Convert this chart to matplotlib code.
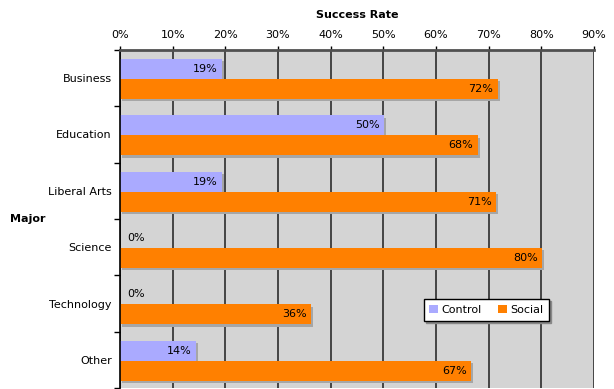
import matplotlib.pyplot as plt
import matplotlib.patheffects as pe
from matplotlib.ticker import FixedLocator, PercentFormatter
import numpy as np

plt.rcParams['font.family'] = ['DejaVu Sans']
plt.rcParams['font.size'] = 8

majors = ['Business', 'Education', 'Liberal Arts', 'Science', 'Technology', 'Other']
control = [19.4, 50.1, 19.4, 0.0, 0.0, 14.4]
social = [71.7, 67.9, 71.3, 80.1, 36.2, 66.7]

fig = plt.figure(figsize=(6.14, 3.89), dpi=100)
ax = fig.add_axes([120 / 614, 1 / 389, 474 / 614, 338 / 389])
ax.set_facecolor('#d4d4d4')

y = np.arange(len(majors))
h = 0.355
shadow = [pe.SimplePatchShadow(offset=(1.5, -1.5), shadow_rgbFace='#a6a6a6', alpha=1.0), pe.Normal()]

b1 = ax.barh(y - 0.16, control, height=h, color='#aaaaff', label='Control', zorder=3)
b2 = ax.barh(y + 0.195, social, height=h, color='#ff8000', label='Social', zorder=3)
for bars in (b1, b2):
    for p in bars:
        p.set_path_effects(shadow)

# value labels inside the bar ends
for bars, vals in ((b1, control), (b2, social)):
    for p, v in zip(bars, vals):
        yc = p.get_y() + p.get_height() / 2
        if v > 0:
            ax.annotate(f'{v:.0f}%', (v, yc), xytext=(-3, 0), textcoords='offset points',
                        ha='right', va='center', zorder=5)
        else:
            ax.annotate(f'{v:.0f}%', (v, yc), xytext=(5, 0), textcoords='offset points',
                        ha='left', va='center', zorder=5)

ax.set_xlim(0, 90)
ax.set_ylim(len(majors) - 0.5, -0.5)
ax.xaxis.set_major_locator(FixedLocator(np.arange(0, 91, 10)))
ax.xaxis.set_major_formatter(PercentFormatter(decimals=0))
ax.xaxis.tick_top()
ax.xaxis.set_label_position('top')
ax.tick_params(axis='x', direction='out', length=3, width=1, pad=4, colors='black')
ax.set_xlabel('Success Rate', fontweight='bold', labelpad=9)

ax.set_yticks(y)
ax.set_yticklabels(majors)
ax.yaxis.set_minor_locator(FixedLocator(np.arange(-0.5, len(majors), 1)))
ax.tick_params(axis='y', which='major', length=0, pad=6)
ax.tick_params(axis='y', which='minor', length=4, width=1, direction='out', color='black')

ax.grid(axis='x', color='#3a3a3a', linewidth=1.3)
ax.set_axisbelow(True)

for s in ('right', 'bottom'):
    ax.spines[s].set_visible(False)
ax.spines['top'].set_color('#505050')
ax.spines['top'].set_linewidth(2)
ax.spines['left'].set_color('black')
ax.spines['left'].set_linewidth(1.2)
ax.spines['top'].set_zorder(4)
ax.spines['left'].set_zorder(4)

fig.text(10 / 614, 1 - 219 / 389, 'Major', fontweight='bold', ha='left', va='center')

leg = ax.legend(ncol=2, loc='center', bbox_to_anchor=((486.5 - 120) / 474, (388 - 310) / 338),
                frameon=True, fancybox=False,
                shadow={'color': '#888888', 'alpha': 1.0, 'ox': 1.5, 'oy': -1.5},
                handlelength=0.8, handleheight=0.8,
                handletextpad=0.3, columnspacing=1.5, borderpad=0.5, fontsize=8)
leg.get_frame().set_edgecolor('black')
leg.get_frame().set_linewidth(1)
for hnd in leg.legend_handles:
    hnd.set_path_effects([])
leg.set_zorder(6)

fig.savefig('out.png', dpi=100)
